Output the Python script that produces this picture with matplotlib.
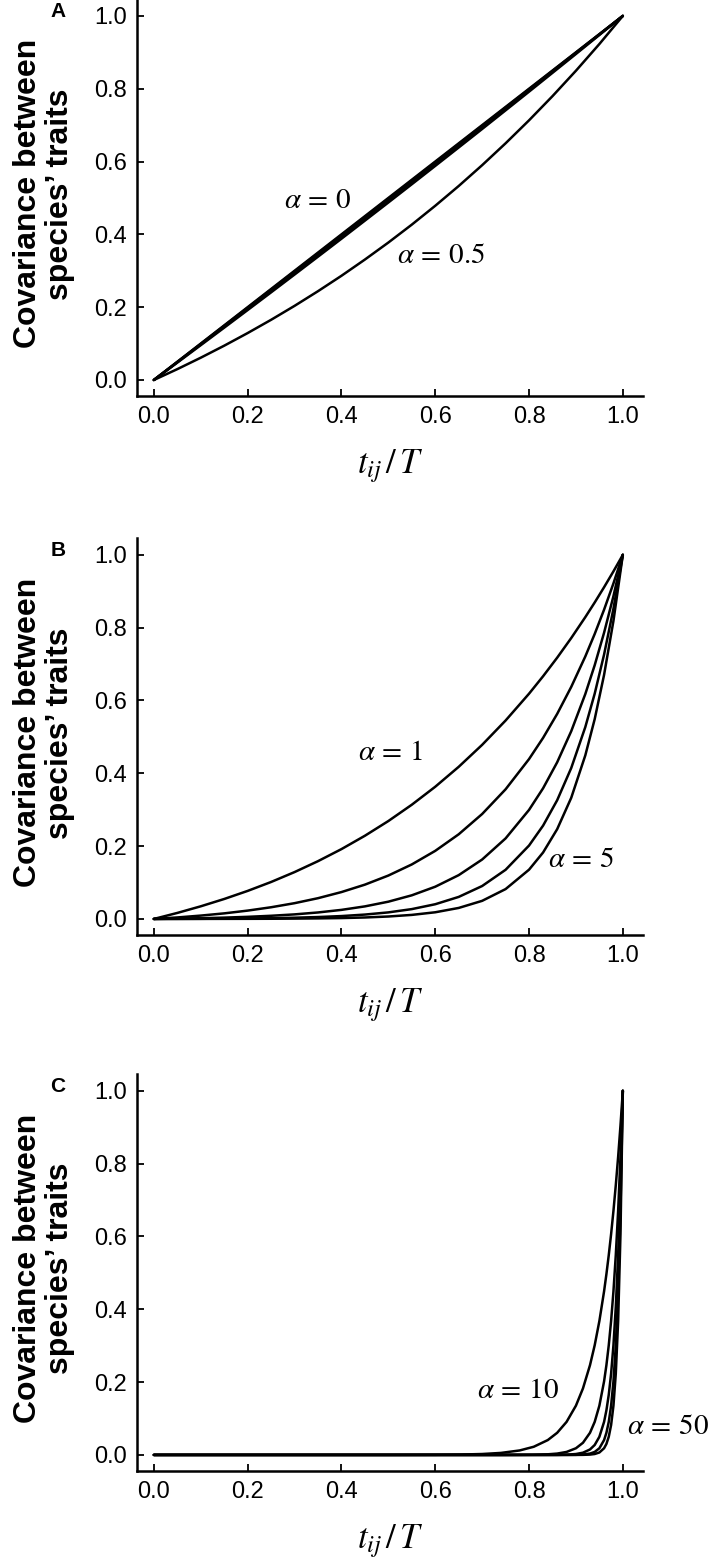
import matplotlib
import matplotlib.pyplot as plt

matplotlib.use("Agg")

plt.rcParams["mathtext.fontset"] = "stix"
plt.rcParams["font.family"] = ["Liberation Sans", "DejaVu Sans"]

# panel A: small alpha
x_a = [0.0, 0.05, 0.1, 0.15, 0.2, 0.25, 0.3, 0.35, 0.4, 0.45, 0.5,
       0.55, 0.6, 0.65, 0.7, 0.75, 0.8, 0.85, 0.9, 0.95, 1.0]
cov_a_0 = [0.0, 0.05, 0.1, 0.15, 0.2, 0.25, 0.3, 0.35, 0.4, 0.45, 0.5,
           0.55, 0.6, 0.65, 0.7, 0.75, 0.8, 0.85, 0.9, 0.95, 1.0]
cov_a_001 = [0.0, 0.0495, 0.0991, 0.1487, 0.1984, 0.2481, 0.2979, 0.3477, 0.3976, 0.4475, 0.4975,
             0.5475, 0.5976, 0.6477, 0.6979, 0.7481, 0.7984, 0.8487, 0.8991, 0.9495, 1.0]
cov_a_0025 = [0.0, 0.0488, 0.0978, 0.1468, 0.1960, 0.2453, 0.2948, 0.3443, 0.3940, 0.4438, 0.4938,
              0.5438, 0.5940, 0.6443, 0.6948, 0.7453, 0.7960, 0.8468, 0.8978, 0.9488, 1.0]
cov_a_005 = [0.0, 0.0477, 0.0956, 0.1437, 0.1921, 0.2407, 0.2896, 0.3387, 0.3880, 0.4377, 0.4875,
             0.5376, 0.5880, 0.6386, 0.6894, 0.7406, 0.7919, 0.8436, 0.8954, 0.9476, 1.0]
cov_a_05 = [0.0, 0.0298, 0.0612, 0.0942, 0.1289, 0.1653, 0.2036, 0.2439, 0.2862, 0.3308, 0.3775,
            0.4267, 0.4785, 0.5328, 0.5900, 0.6501, 0.7132, 0.7796, 0.8494, 0.9228, 1.0]

# panel B: alpha 1..5
x_b = [0.0, 0.05, 0.1, 0.15, 0.2, 0.25, 0.3, 0.35, 0.4, 0.45, 0.5, 0.55, 0.6, 0.65,
       0.7, 0.75, 0.8, 0.83, 0.86, 0.89, 0.92, 0.94, 0.96, 0.98, 1.0]
cov_b_1 = [0.0, 0.0165, 0.0347, 0.0548, 0.0770, 0.1015, 0.1287, 0.1587, 0.1918, 0.2285, 0.2689, 0.3137,
           0.3631, 0.4178, 0.4782, 0.5450, 0.6187, 0.6667, 0.7176, 0.7716, 0.8290, 0.8692, 0.9111, 0.9547, 1.0]
cov_b_2 = [0.0, 0.0041, 0.0092, 0.0153, 0.0229, 0.0321, 0.0433, 0.0570, 0.0738, 0.0942, 0.1192, 0.1497,
           0.1870, 0.2325, 0.2882, 0.3561, 0.4391, 0.4974, 0.5632, 0.6374, 0.7210, 0.7827, 0.8494, 0.9217, 1.0]
cov_b_3 = [0.0, 0.0009, 0.0020, 0.0036, 0.0058, 0.0087, 0.0125, 0.0178, 0.0249, 0.0345, 0.0474, 0.0649,
           0.0885, 0.1203, 0.1632, 0.2212, 0.2995, 0.3590, 0.4303, 0.5157, 0.6178, 0.6969, 0.7861, 0.8866, 1.0]
cov_b_4 = [0.0, 0.0002, 0.0004, 0.0008, 0.0013, 0.0021, 0.0034, 0.0052, 0.0079, 0.0120, 0.0180, 0.0270,
           0.0404, 0.0605, 0.0904, 0.1350, 0.2016, 0.2564, 0.3261, 0.4146, 0.5271, 0.6187, 0.7261, 0.8521, 1.0]
cov_b_5 = [0.0, 0.0000, 0.0001, 0.0002, 0.0003, 0.0005, 0.0009, 0.0015, 0.0024, 0.0040, 0.0067, 0.0111,
           0.0183, 0.0302, 0.0497, 0.0820, 0.1353, 0.1826, 0.2466, 0.3328, 0.4493, 0.5488, 0.6703, 0.8187, 1.0]

# panel C: alpha 10..50
x_c = [0.0, 0.5, 0.6, 0.65, 0.7, 0.74, 0.78, 0.81, 0.84, 0.86, 0.88, 0.9, 0.915,
       0.93, 0.94, 0.95, 0.96, 0.965, 0.97, 0.975, 0.98, 0.985, 0.99, 0.995, 1.0]
cov_c_10 = [0.0, 0.0, 0.0003, 0.0009, 0.0025, 0.0055, 0.0123, 0.0224, 0.0408, 0.0608, 0.0907, 0.1353, 0.1827,
            0.2466, 0.3012, 0.3679, 0.4493, 0.4966, 0.5488, 0.6065, 0.6703, 0.7408, 0.8187, 0.9048, 1.0]
cov_c_20 = [0.0, 0.0, 0.0, 0.0, 0.0, 0.0, 0.0002, 0.0005, 0.0017, 0.0037, 0.0082, 0.0183, 0.0334,
            0.0608, 0.0907, 0.1353, 0.2019, 0.2466, 0.3012, 0.3679, 0.4493, 0.5488, 0.6703, 0.8187, 1.0]
cov_c_30 = [0.0, 0.0, 0.0, 0.0, 0.0, 0.0, 0.0, 0.0, 0.0001, 0.0002, 0.0007, 0.0025, 0.0061,
            0.0150, 0.0273, 0.0498, 0.0907, 0.1225, 0.1653, 0.2231, 0.3012, 0.4066, 0.5488, 0.7408, 1.0]
cov_c_40 = [0.0, 0.0, 0.0, 0.0, 0.0, 0.0, 0.0, 0.0, 0.0, 0.0, 0.0001, 0.0003, 0.0011,
            0.0037, 0.0082, 0.0183, 0.0408, 0.0608, 0.0907, 0.1353, 0.2019, 0.3012, 0.4493, 0.6703, 1.0]
cov_c_50 = [0.0, 0.0, 0.0, 0.0, 0.0, 0.0, 0.0, 0.0, 0.0, 0.0, 0.0, 0.0, 0.0002,
            0.0009, 0.0025, 0.0067, 0.0183, 0.0302, 0.0498, 0.0821, 0.1353, 0.2231, 0.3679, 0.6065, 1.0]

ticks = [0.0, 0.2, 0.4, 0.6, 0.8, 1.0]
tick_labels = ["0.0", "0.2", "0.4", "0.6", "0.8", "1.0"]

panels = [
    ("A", x_a, [cov_a_0, cov_a_001, cov_a_0025, cov_a_005, cov_a_05],
     [(r"$\alpha\,=\,0$", 0.35, 0.495), (r"$\alpha\,=\,0.5$", 0.612, 0.343)]),
    ("B", x_b, [cov_b_1, cov_b_2, cov_b_3, cov_b_4, cov_b_5],
     [(r"$\alpha\,=\,1$", 0.505, 0.459), (r"$\alpha\,=\,5$", 0.912, 0.165)]),
    ("C", x_c, [cov_c_10, cov_c_20, cov_c_30, cov_c_40, cov_c_50],
     [(r"$\alpha\,=\,10$", 0.776, 0.178), (r"$\alpha\,=\,50$", 1.096, 0.08)]),
]

fig = plt.figure(figsize=(7.09, 15.64), dpi=100)
bottoms = [0.7468, 0.4022, 0.0595]

for (letter, xs, curves, notes), bottom in zip(panels, bottoms):
    ax = fig.add_axes([0.1932, bottom, 0.7137, 0.2535])
    for ys in curves:
        ax.plot(xs, ys, color="black", lw=1.8, solid_capstyle="round",
                solid_joinstyle="round")

    ax.set_xlim(-0.036, 1.043)
    ax.set_ylim(-0.044, 1.045)
    ax.set_xticks(ticks)
    ax.set_xticklabels(tick_labels)
    ax.set_yticks(ticks)
    ax.set_yticklabels(tick_labels)
    ax.tick_params(direction="in", length=5, width=1.3, labelsize=17, pad=7)

    for side in ["top", "right"]:
        ax.spines[side].set_visible(False)
    for side in ["left", "bottom"]:
        ax.spines[side].set_linewidth(1.8)

    ax.set_xlabel(r"$t_{ij}\,/\,T$", fontsize=25, labelpad=14)
    ax.set_ylabel("Covariance between\nspecies\u2019 traits", fontsize=23,
                  fontweight="bold", linespacing=1.08)
    ax.yaxis.set_label_coords(-0.122, 0.51)

    for text, tx, ty in notes:
        ax.text(tx, ty, text, fontsize=21, ha="center", va="center", clip_on=False)

    ax.text(-0.156, 0.97, letter, transform=ax.transAxes, fontsize=15,
            fontweight="bold", ha="center", va="center")

fig.savefig("out.png", dpi=100)
